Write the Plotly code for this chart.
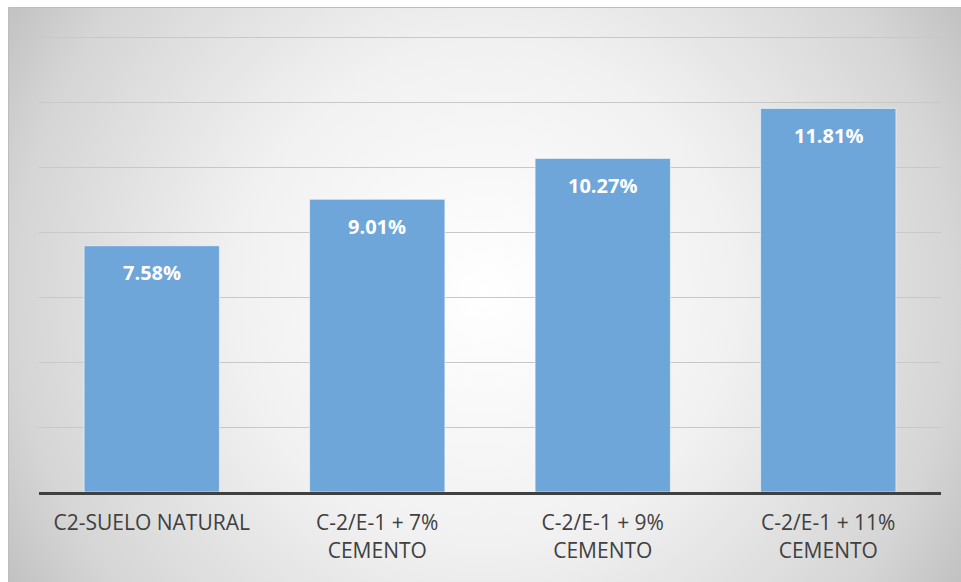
import base64
import plotly.graph_objects as go

# Data
categories = ["C2-SUELO NATURAL", "C-2/E-1 + 7%<br>CEMENTO",
              "C-2/E-1 + 9%<br>CEMENTO", "C-2/E-1 + 11%<br>CEMENTO"]
values = [7.58, 9.01, 10.27, 11.81]
labels = [f"{v:.2f}%" for v in values]

W, H = 961, 582
L, R, T, B = 39, 20, 34, 90
pw, ph = W - L - R, H - T - B

# frame (chart area) in pixels
fx0, fy0, fx1, fy1 = 8, 7, 961, 582
fw, fh = fx1 - fx0, fy1 - fy0

svg = f"""<svg xmlns='http://www.w3.org/2000/svg' width='{fw}' height='{fh}' viewBox='0 0 {fw} {fh}'>
<defs><radialGradient id='g' gradientUnits='userSpaceOnUse' cx='{fw/2}' cy='{fh/2}' r='555'>
<stop offset='0' stop-color='#ffffff'/>
<stop offset='0.45' stop-color='#f1f1f1'/>
<stop offset='0.85' stop-color='#d5d5d5'/>
<stop offset='1' stop-color='#c2c2c2'/>
</radialGradient></defs>
<rect x='0' y='0' width='{fw}' height='{fh}' fill='url(#g)'/>
</svg>"""
bg_src = "data:image/svg+xml;base64," + base64.b64encode(svg.encode()).decode()


def px_to_paper_x(px):
    return (px - L) / pw


def px_to_paper_y(py):
    return (H - B - py) / ph


fig = go.Figure()
fig.add_trace(go.Bar(
    x=categories, y=values,
    marker=dict(color="#6fa6d9", line=dict(color="rgba(255,255,255,0.55)", width=1)),
    width=0.6,
    hoverinfo="skip",
))

for c, v, t in zip(categories, values, labels):
    fig.add_annotation(x=c, y=v, text=f"<b>{t}</b>", showarrow=False,
                       yanchor="middle", yshift=-27,
                       font=dict(family="Open Sans", size=20, color="white"))

fig.add_layout_image(dict(
    source=bg_src, xref="paper", yref="paper",
    x=px_to_paper_x(fx0), y=px_to_paper_y(fy0),
    sizex=fw / pw, sizey=fh / ph,
    xanchor="left", yanchor="top", sizing="stretch", layer="below",
))

fig.add_shape(type="rect", xref="paper", yref="paper",
              x0=px_to_paper_x(fx0 + 0.5), x1=px_to_paper_x(fx1 + 2),
              y0=px_to_paper_y(fy1 + 2), y1=px_to_paper_y(fy0 + 0.5),
              line=dict(color="#bdbdbd", width=1), layer="below")

fig.update_layout(
    width=W, height=H,
    margin=dict(l=L, r=R, t=T, b=B),
    paper_bgcolor="white", plot_bgcolor="rgba(0,0,0,0)",
    showlegend=False,
    bargap=0.4,
    font=dict(family="Open Sans", size=21, color="#404040"),
)
fig.update_xaxes(showline=True, linecolor="#404040", linewidth=3,
                 ticks="", tickfont=dict(size=21, color="#404040"),
                 ticklabelstandoff=10, showgrid=False)
fig.update_yaxes(range=[0, 14.1], tick0=0, dtick=2, showticklabels=False,
                 gridcolor="#c8c8c8", gridwidth=1, zeroline=False)

fig.write_html("out.html")
